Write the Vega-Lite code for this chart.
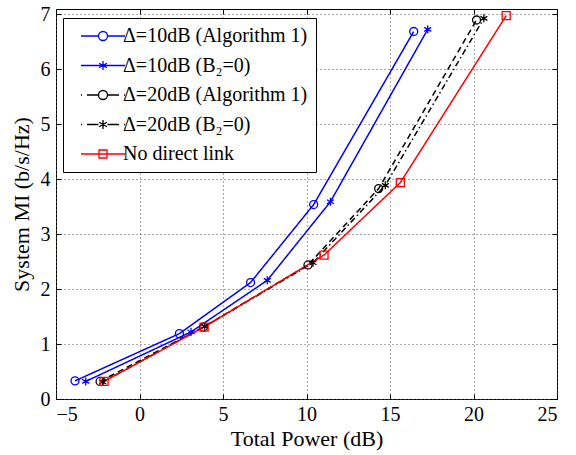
{
  "$schema": "https://vega.github.io/schema/vega-lite/v6.json",
  "width": 501,
  "height": 390,
  "autosize": {"type": "none"},
  "padding": {"left": 56, "top": 9, "right": 19, "bottom": 56},
  "background": "white",
  "config": {
    "view": {"stroke": "black", "strokeWidth": 1},
    "font": "Liberation Serif, Times New Roman, DejaVu Serif, serif",
    "axis": {
      "domainColor": "black",
      "tickColor": "black",
      "labelColor": "black",
      "titleColor": "black",
      "labelFont": "Liberation Serif, Times New Roman, DejaVu Serif, serif",
      "titleFont": "Liberation Serif, Times New Roman, DejaVu Serif, serif",
      "labelFontSize": 20,
      "titleFontSize": 22,
      "titleFontWeight": "normal",
      "gridColor": "#555555",
      "gridDash": [1, 3],
      "gridWidth": 1
    },
    "legend": {
      "orient": "none", "legendX": 7, "legendY": 9, "title": null,
      "strokeColor": "black", "fillColor": "white", "padding": 8, "cornerRadius": 0,
      "labelFont": "Liberation Serif, Times New Roman, DejaVu Serif, serif", "labelFontSize": 20, "labelColor": "black", "labelLimit": 400,
      "symbolSize": 4, "symbolStrokeWidth": 1.3, "symbolOpacity": 1,
      "labelOffset": 32, "rowPadding": 9.5
    }
  },
  "data": {
    "values": [
      {"s": "Δ=10dB (Algorithm 1)", "x": -3.86, "y": 0.33},
      {"s": "Δ=10dB (Algorithm 1)", "x": 2.39, "y": 1.19},
      {"s": "Δ=10dB (Algorithm 1)", "x": 6.65, "y": 2.12},
      {"s": "Δ=10dB (Algorithm 1)", "x": 10.43, "y": 3.54},
      {"s": "Δ=10dB (Algorithm 1)", "x": 16.42, "y": 6.69},
      {"s": "Δ=10dB (B₂=0)", "x": -3.22, "y": 0.32},
      {"s": "Δ=10dB (B₂=0)", "x": 3.08, "y": 1.22},
      {"s": "Δ=10dB (B₂=0)", "x": 7.65, "y": 2.16},
      {"s": "Δ=10dB (B₂=0)", "x": 11.43, "y": 3.59},
      {"s": "Δ=10dB (B₂=0)", "x": 17.26, "y": 6.73},
      {"s": "Δ=20dB (Algorithm 1)", "x": -2.36, "y": 0.32},
      {"s": "Δ=20dB (Algorithm 1)", "x": 3.83, "y": 1.31},
      {"s": "Δ=20dB (Algorithm 1)", "x": 10.09, "y": 2.44},
      {"s": "Δ=20dB (Algorithm 1)", "x": 14.32, "y": 3.83},
      {"s": "Δ=20dB (Algorithm 1)", "x": 20.18, "y": 6.9},
      {"s": "Δ=20dB (B₂=0)", "x": -2.2, "y": 0.31},
      {"s": "Δ=20dB (B₂=0)", "x": 3.9, "y": 1.32},
      {"s": "Δ=20dB (B₂=0)", "x": 10.39, "y": 2.48},
      {"s": "Δ=20dB (B₂=0)", "x": 14.72, "y": 3.89},
      {"s": "Δ=20dB (B₂=0)", "x": 20.62, "y": 6.93},
      {"s": "No direct link", "x": -2.12, "y": 0.32},
      {"s": "No direct link", "x": 3.87, "y": 1.31},
      {"s": "No direct link", "x": 11.05, "y": 2.62},
      {"s": "No direct link", "x": 15.62, "y": 3.94},
      {"s": "No direct link", "x": 21.96, "y": 6.98}
    ]
  },
  "resolve": {
    "scale": {"shape": "independent"},
    "legend": {"color": "independent", "shape": "independent", "strokeDash": "independent"}
  },
  "layer": [
    {
      "mark": {"type": "line", "strokeWidth": 1.5},
      "encoding": {
        "x": {
          "field": "x", "type": "quantitative",
          "scale": {"domain": [-5, 25], "nice": false, "zero": false},
          "axis": {"orient": "bottom", "values": [-5, 0, 5, 10, 15, 20, 25], "grid": true, "tickSize": -5, "labelPadding": 10, "title": "Total Power (dB)", "titlePadding": 4, "domain": false}
        },
        "y": {
          "field": "y", "type": "quantitative",
          "scale": {"domain": [0, 7.1], "nice": false, "zero": true},
          "axis": {"orient": "left", "values": [0, 1, 2, 3, 4, 5, 6, 7], "grid": true, "tickSize": -5, "labelPadding": 11, "title": "System MI (b/s/Hz)", "titlePadding": 7, "domain": false}
        },
        "color": {
          "field": "s", "type": "nominal",
          "scale": {
            "domain": ["Δ=10dB (Algorithm 1)", "Δ=10dB (B₂=0)", "Δ=20dB (Algorithm 1)", "Δ=20dB (B₂=0)", "No direct link"],
            "range": ["#0000ff", "#0000ff", "#000000", "#000000", "#ff0000"]
          },
          "legend": null
        },
        "strokeDash": {
          "field": "s", "type": "nominal",
          "scale": {
            "domain": ["Δ=10dB (Algorithm 1)", "Δ=10dB (B₂=0)", "Δ=20dB (Algorithm 1)", "Δ=20dB (B₂=0)", "No direct link"],
            "range": [[1, 0], [1, 0], [6, 4], [6, 3, 1.5, 3], [1, 0]]
          },
          "legend": null
        }
      }
    },
    {
      "mark": {"type": "point", "filled": false, "size": 64, "strokeWidth": 1.3, "opacity": 1},
      "encoding": {
        "x": {
          "field": "x", "type": "quantitative",
          "axis": {"orient": "top", "values": [-5, 0, 5, 10, 15, 20, 25], "grid": false, "tickSize": -5, "labels": false, "title": null, "domain": false}
        },
        "y": {
          "field": "y", "type": "quantitative",
          "axis": {"orient": "right", "values": [0, 1, 2, 3, 4, 5, 6, 7], "grid": false, "tickSize": -5, "labels": false, "title": null, "domain": false}
        },
        "color": {"field": "s", "type": "nominal", "legend": null},
        "shape": {
          "field": "s", "type": "nominal",
          "scale": {
            "domain": ["Δ=10dB (Algorithm 1)", "Δ=10dB (B₂=0)", "Δ=20dB (Algorithm 1)", "Δ=20dB (B₂=0)", "No direct link"],
            "range": ["circle", "M0,-1V1M-0.87,-0.5L0.87,0.5M-0.87,0.5L0.87,-0.5", "circle", "M0,-1V1M-0.87,-0.5L0.87,0.5M-0.87,0.5L0.87,-0.5", "square"]
          },
          "legend": null
        }
      }
    },
    {
      "transform": [{"filter": "false"}],
      "mark": {"type": "point", "filled": false, "strokeWidth": 1.3, "opacity": 1},
      "encoding": {
        "x": {"field": "x", "type": "quantitative", "axis": null},
        "y": {"field": "y", "type": "quantitative", "axis": null},
        "color": {"field": "s", "type": "nominal", "legend": {}},
        "shape": {
          "field": "s", "type": "nominal",
          "scale": {
            "domain": ["Δ=10dB (Algorithm 1)", "Δ=10dB (B₂=0)", "Δ=20dB (Algorithm 1)", "Δ=20dB (B₂=0)", "No direct link"],
            "range": [
              "M0,0H17.5M26.5,0H44M26.5,0A4.5,4.5,0,1,1,17.5,0A4.5,4.5,0,1,1,26.5,0",
              "M0,0H44M22,-4.5V4.5M18.1,-2.25L25.9,2.25M18.1,2.25L25.9,-2.25",
              "M0,0H1M6,0H17.5M26.5,0H38M43,0H44M26.5,0A4.5,4.5,0,1,1,17.5,0A4.5,4.5,0,1,1,26.5,0",
              "M0,0H1M6,0H17.5M26.5,0H38M43,0H44M22,-4.5V4.5M18.1,-2.25L25.9,2.25M18.1,2.25L25.9,-2.25",
              "M0,0H44M18,-4H26V4H18Z"
            ]
          },
          "legend": {}
        }
      }
    }
  ]
}
